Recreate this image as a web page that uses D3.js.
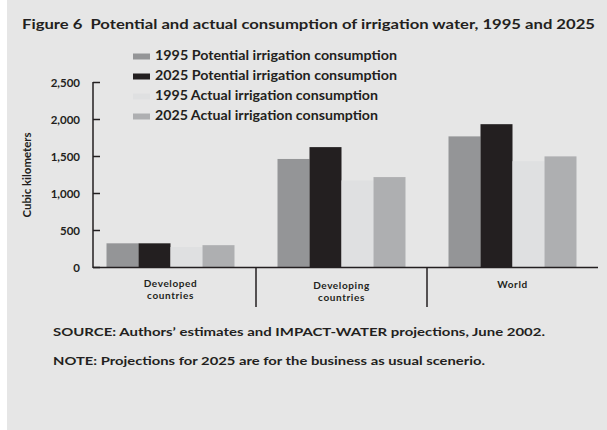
<!DOCTYPE html>
<html lang="en">
<head>
<meta charset="UTF-8" />
<title>Figure 6</title>
<script src="https://cdn.jsdelivr.net/npm/d3@7"></script>
<style>
  body { margin: 0; background: #ffffff; }
  svg text { font-family: Lato, "Open Sans", sans-serif; font-weight: bold; fill: #231f20; white-space: pre; }
</style>
</head>
<body>
<script>
// data (cubic kilometers)
const regions = ["Developed countries", "Developing countries", "World"];
const seriesNames = [
  "1995 Potential irrigation consumption",
  "2025 Potential irrigation consumption",
  "1995 Actual irrigation consumption",
  "2025 Actual irrigation consumption"
];
const potential1995 = [320, 1460, 1765];
const potential2025 = [320, 1620, 1930];
const actual1995 = [270, 1170, 1430];
const actual2025 = [295, 1215, 1495];
const yTicks = [0, 500, 1000, 1500, 2000, 2500];

const colors = ["#949597", "#231f20", "#dfe0e1", "#aeafb1"];
const allSeries = [potential1995, potential2025, actual1995, actual2025];

const W = 607, H = 430;
const svg = d3.select("body").append("svg")
  .attr("width", W).attr("height", H);

// page panel
svg.append("rect").attr("x", 7).attr("y", 0)
  .attr("width", W - 7).attr("height", H).attr("fill", "#e6e6e6");

// title
svg.append("text")
  .attr("x", 22).attr("y", 29)
  .attr("textLength", 573).attr("lengthAdjust", "spacingAndGlyphs")
  .style("font-size", "13.5px")
  .text("Figure 6  Potential and actual consumption of irrigation water, 1995 and 2025");

// scales
const y = d3.scaleLinear().domain([0, 2500]).range([267, 82]);
const x0 = d3.scaleBand().domain(regions).range([85, 598]);
const x1 = d3.scaleBand().domain(d3.range(4)).range([0, 128]);

// bars
const groups = svg.append("g").selectAll("g")
  .data(regions)
  .join("g")
  .attr("transform", d => `translate(${x0(d) + (x0.bandwidth() - 128) / 2},0)`);

groups.selectAll("rect")
  .data((d, i) => allSeries.map((s, k) => ({ k: k, v: s[i] })))
  .join("rect")
  .attr("x", d => x1(d.k))
  .attr("width", x1.bandwidth())
  .attr("y", d => y(d.v))
  .attr("height", d => y(0) - y(d.v))
  .attr("fill", d => colors[d.k]);

// y axis
const yAxis = svg.append("g").attr("transform", "translate(93,0)")
  .call(d3.axisLeft(y).tickValues(yTicks).tickSize(7).tickFormat(d3.format(",")));
yAxis.select(".domain").remove();
yAxis.selectAll(".tick line").attr("x2", 7).attr("stroke", "#231f20").attr("stroke-width", 1.5);
yAxis.selectAll(".tick text")
  .attr("x", -13).attr("dy", "0.35em")
  .style("font-size", "11.5px").style("font-family", "Lato, sans-serif")
  .attr("fill", "#231f20");
svg.append("line").attr("x1", 93).attr("x2", 93).attr("y1", 82).attr("y2", 268)
  .attr("stroke", "#231f20").attr("stroke-width", 1.5);

// baseline and category separators
svg.append("line").attr("x1", 93).attr("x2", 598).attr("y1", 267.5).attr("y2", 267.5)
  .attr("stroke", "#231f20").attr("stroke-width", 1.5);
svg.append("g").selectAll("line")
  .data(regions.slice(1))
  .join("line")
  .attr("x1", d => x0(d)).attr("x2", d => x0(d))
  .attr("y1", 267).attr("y2", 307)
  .attr("stroke", "#231f20").attr("stroke-width", 1.5);

// category labels
const labelLines = [["Developed", "countries"], ["Developing", "countries"], ["World"]];
const labelTop = [287, 289, 288];
regions.forEach((r, i) => {
  labelLines[i].forEach((t, j) => {
    svg.append("text")
      .attr("x", x0(r) + x0.bandwidth() / 2)
      .attr("y", labelTop[i] + j * 12)
      .attr("text-anchor", "middle")
      .style("font-size", "10px")
      .style("letter-spacing", "0.6px")
      .text(t);
  });
});

// y title
svg.append("text")
  .attr("transform", "translate(31,175) rotate(-90)")
  .attr("text-anchor", "middle")
  .attr("textLength", 85).attr("lengthAdjust", "spacingAndGlyphs")
  .style("font-size", "10.5px")
  .text("Cubic kilometers");

// legend
const legendY = [60, 80, 100, 120];
const legendW = [242, 242, 223, 223];
const legend = svg.append("g").selectAll("g")
  .data(seriesNames)
  .join("g")
  .attr("transform", (d, i) => `translate(133,${legendY[i]})`);
legend.append("rect")
  .attr("x", 0).attr("y", -6.5).attr("width", 17).attr("height", 6)
  .attr("fill", (d, i) => colors[i]);
legend.append("text")
  .attr("x", 22).attr("y", 0)
  .attr("textLength", (d, i) => legendW[i]).attr("lengthAdjust", "spacingAndGlyphs")
  .style("font-size", "12.5px")
  .text(d => d);

// source and note
svg.append("text").attr("x", 53).attr("y", 336)
  .attr("textLength", 492).attr("lengthAdjust", "spacingAndGlyphs")
  .style("font-size", "12px")
  .text("SOURCE: Authors\u2019 estimates and IMPACT-WATER projections, June 2002.");
svg.append("text").attr("x", 53).attr("y", 365)
  .attr("textLength", 432).attr("lengthAdjust", "spacingAndGlyphs")
  .style("font-size", "12px")
  .text("NOTE: Projections for 2025 are for the business as usual scenerio.");
</script>
</body>
</html>
